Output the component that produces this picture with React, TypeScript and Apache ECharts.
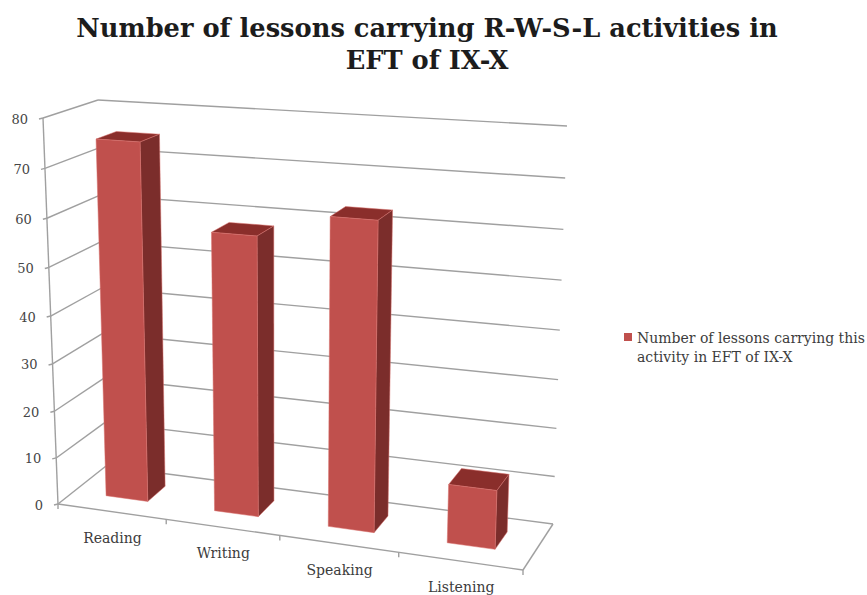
import React, { useEffect, useRef } from "react";
import * as echarts from "echarts";

const titleText = "Number of lessons carrying R-W-S-L activities in\nEFT of IX-X";
const seriesName = "Number of lessons carrying this\nactivity in EFT of IX-X";
const categories = ["Reading", "Writing", "Speaking", "Listening"];
const lessonCounts = [75, 58, 63, 12];
const valueTicks = [0, 10, 20, 30, 40, 50, 60, 70, 80];
const categoryEdges = [0, 1, 2, 3, 4];

const SERIF = "'DejaVu Serif', serif";
const FRONT = "#c0504d";
const SIDE = "#7b2d2b";
const TOP = "#8a2e2b";
const RULE = "#a0a0a0";

// Corners of the box the plot is projected on: [front/back][left/right][floor/ceiling].
const FLB = [58, 504];
const FRB = [523, 570];
const BLB = [106, 466];
const BRB = [553, 524];
const FLT = [43, 118];
const FRT = [538, 150];
const BLT = [98, 100];
const BRT = [567, 126];

const lerp = (a: number[], b: number[], k: number) => [a[0] + (b[0] - a[0]) * k, a[1] + (b[1] - a[1]) * k];

// Foreshortening along the category and value directions.
const easeU = (t: number) => t * (0.908 + 0.092 * t);
const easeV = (x: number) => x * (0.948 + 0.052 * x);

// u: across categories, f: height, w: depth, all in 0..1 after easing.
function project(u: number, f: number, w: number) {
  const floor = lerp(lerp(FLB, FRB, u), lerp(BLB, BRB, u), w);
  const ceil = lerp(lerp(FLT, FRT, u), lerp(BLT, BRT, u), w);
  return lerp(floor, ceil, f);
}

// Reads the plot position of a data point from the cartesian axes as 0..1 fractions.
function fractions(params: any, api: any, cat: number, value: number) {
  const [px, py] = api.coord([cat, value]);
  const cs = params.coordSys;
  return { t: (px - cs.x) / cs.width, x: (cs.y + cs.height - py) / cs.height, band: api.size([1, 0])[0] / cs.width };
}

const BAR_SHARE = 0.39;
const DEPTH_FRONT = 0.335;
const DEPTH_BACK = 0.72;

function renderBar(params: any, api: any) {
  const cat = api.value(0);
  const { t, x, band } = fractions(params, api, cat, api.value(1));
  const half = (band * BAR_SHARE) / 2;
  const u0 = easeU(t - half);
  const u1 = easeU(t + half);
  const f = easeV(x);
  const poly = (points: number[][], fill: string) => ({
    type: "polygon",
    shape: { points },
    style: { fill, stroke: "#d9706c", lineWidth: 0.5 },
  });
  return {
    type: "group",
    children: [
      poly([project(u0, f, DEPTH_FRONT), project(u1, f, DEPTH_FRONT), project(u1, f, DEPTH_BACK), project(u0, f, DEPTH_BACK)], TOP),
      poly([project(u1, 0, DEPTH_FRONT), project(u1, f, DEPTH_FRONT), project(u1, f, DEPTH_BACK), project(u1, 0, DEPTH_BACK)], SIDE),
      poly([project(u0, 0, DEPTH_FRONT), project(u1, 0, DEPTH_FRONT), project(u1, f, DEPTH_FRONT), project(u0, f, DEPTH_FRONT)], FRONT),
    ],
  };
}

const rule = (a: number[], b: number[]) => ({
  type: "line",
  shape: { x1: a[0], y1: a[1], x2: b[0], y2: b[1] },
  style: { stroke: RULE, lineWidth: 1.4 },
});

function renderValueRule(params: any, api: any) {
  const value = api.value(1);
  const f = easeV(fractions(params, api, 0, value).x);
  const front = project(0, f, 0);
  const corner = project(0, f, 1);
  const end = project(1, f, 1);
  return {
    type: "group",
    children: [
      rule(front, corner),
      rule(corner, end),
      rule([front[0] - 4, front[1] + 1], front),
      {
        type: "text",
        style: {
          text: String(value),
          x: front[0] - 15,
          y: front[1] + 1,
          align: "right",
          verticalAlign: "middle",
          font: `13px ${SERIF}`,
          fill: "#454545",
        },
      },
    ],
  };
}

// Floor outline, the vertical axis and the category ticks.
function renderCategoryEdge(_params: any, api: any) {
  const edge = api.value(0);
  const t = edge / categoryEdges[categoryEdges.length - 1];
  const p = project(easeU(t), 0, 0);
  const children: any[] = [rule(p, [p[0], p[1] + 5])];
  if (edge === 0) {
    children.push(rule(project(0, 0, 0), project(1, 0, 0)));
    children.push(rule(project(0, 0, 0), project(0, 1, 0)));
    children.push(rule(project(1, 0, 0), project(1, 0, 1)));
  }
  return { type: "group", children };
}

function renderCategoryLabel(params: any, api: any) {
  const cat = api.value(0);
  const { t } = fractions(params, api, cat, 0);
  const p = project(easeU(t), 0, 0);
  return {
    type: "text",
    style: {
      text: categories[cat],
      x: p[0] + 1,
      y: p[1] + 26,
      align: "center",
      verticalAlign: "middle",
      font: `14px ${SERIF}`,
      fill: "#3c3c3c",
    },
  };
}

export default function App() {
  const ref = useRef<HTMLDivElement>(null);
  useEffect(() => {
    const chart = echarts.init(ref.current!, null, { renderer: "svg" });
    chart.setOption({
      animation: false,
      backgroundColor: "#ffffff",
      title: {
        text: titleText,
        left: 422,
        top: 7,
        textAlign: "center",
        textStyle: { fontFamily: SERIF, fontWeight: "bold", fontSize: 25.7, lineHeight: 32, color: "#1c1c1c" },
      },
      legend: {
        left: 619,
        top: 323,
        data: [seriesName],
        // The square sits on the first text line; the empty sub-path stretches the icon box.
        icon: "path://M0 0H8V8H0Z M0 28L0 28Z",
        itemWidth: 8,
        itemHeight: 28,
        selectedMode: false,
        textStyle: { fontFamily: SERIF, fontSize: 14, lineHeight: 19, color: "#3c3c3c" },
      },
      grid: { left: 0, top: 0, width: 800, height: 500 },
      xAxis: { type: "category", data: categories, show: false },
      yAxis: { type: "value", min: 0, max: 80, interval: 10, show: false },
      series: [
        {
          type: "custom",
          name: "rules",
          z: 1,
          silent: true,
          renderItem: renderValueRule,
          data: valueTicks.map((v) => [0, v]),
        },
        {
          type: "custom",
          name: "edges",
          z: 1,
          silent: true,
          coordinateSystem: "none",
          renderItem: renderCategoryEdge,
          data: categoryEdges.map((e) => [e]),
        },
        {
          type: "custom",
          name: "categoryLabels",
          z: 1,
          silent: true,
          renderItem: renderCategoryLabel,
          data: categories.map((_, i) => [i, 0]),
        },
        {
          type: "custom",
          name: seriesName,
          z: 2,
          silent: true,
          itemStyle: { color: FRONT },
          renderItem: renderBar,
          data: lessonCounts.map((v, i) => [i, v]),
        },
      ],
    });
    return () => chart.dispose();
  }, []);
  return <div ref={ref} style={{ position: "fixed", left: 0, top: 0, width: 867, height: 595 }} />;
}
